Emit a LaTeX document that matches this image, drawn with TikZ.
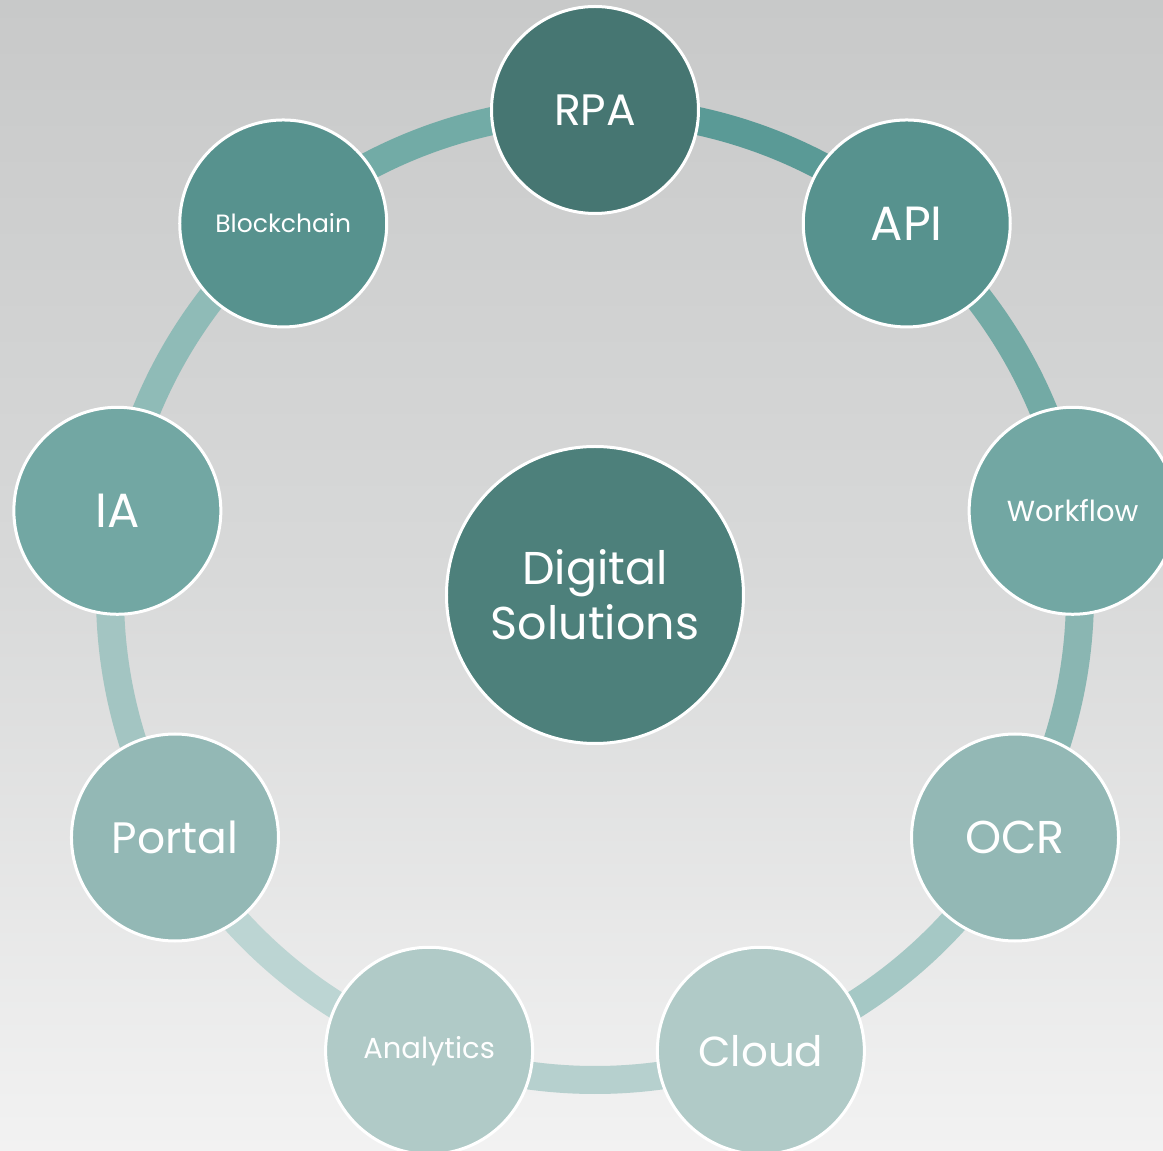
\documentclass[tikz,border=0pt]{standalone}
\usepackage{fontspec}
\setmainfont{Poppins}
\pgfdeclarelayer{bg}
\pgfdeclarelayer{ring}
\pgfsetlayers{bg,ring,main}

\definecolor{bgtop}{RGB}{200,201,201}
\definecolor{bgmid}{RGB}{216,217,217}
\definecolor{bgbot}{RGB}{242,242,242}
\definecolor{hub}{RGB}{77,128,123}
\definecolor{tone1}{RGB}{70,118,114}
\definecolor{tone2}{RGB}{87,146,142}
\definecolor{tone3}{RGB}{114,167,163}
\definecolor{tone4}{RGB}{147,184,181}
\definecolor{tone5}{RGB}{176,202,199}
\definecolor{arcA}{RGB}{90,154,150}
\definecolor{arcB}{RGB}{115,170,165}
\definecolor{arcC}{RGB}{138,182,178}
\definecolor{arcD}{RGB}{165,200,197}
\definecolor{arcE}{RGB}{182,208,206}
\definecolor{arcF}{RGB}{188,213,211}
\definecolor{arcG}{RGB}{163,197,194}
\definecolor{arcH}{RGB}{143,187,183}
\definecolor{arcI}{RGB}{114,171,166}

\newcommand{\txtsize}[1]{\fontsize{#1}{1.2\dimexpr#1pt\relax}\selectfont}

\tikzset{
  bubble/.style={circle, draw=white, line width=3pt, inner sep=0pt,
    minimum size=207pt, text=white, align=center},
  hubnode/.style={circle, draw=white, line width=3pt, inner sep=0pt,
    minimum size=297pt, fill=hub, text=white, align=center},
  ringarc/.style={line width=28pt},
}

\begin{document}
\begin{tikzpicture}[x=1pt,y=1pt]
  % backdrop
  \begin{pgfonlayer}{bg}
    \fill[top color=bgtop, bottom color=bgbot, middle color=bgmid]
      (-595,-556) rectangle (568,595);
  \end{pgfonlayer}
  \useasboundingbox (-595,-556) rectangle (568,595);

  % centre
  \node[hubnode, font={\fontsize{46}{55}\selectfont}] (hub) at (0,0)
    {Digital\\Solutions};

  % outer bubbles on a circle of radius 485
  \node[bubble, fill=tone1, font=\txtsize{44}] (rpa)    at (90:485)   {RPA};
  \node[bubble, fill=tone2, font=\txtsize{48}] (api)    at (50:485)   {API};
  \node[bubble, fill=tone3, font=\txtsize{29}] (wf)     at (10:485)   {Workflow};
  \node[bubble, fill=tone4, font=\txtsize{46}] (ocr)    at (-30:485)  {OCR};
  \node[bubble, fill=tone5, font=\txtsize{42}] (cloud)  at (-70:485)  {Cloud};
  \node[bubble, fill=tone5, font=\txtsize{29}] (ana)    at (-110:485) {Analytics};
  \node[bubble, fill=tone4, font=\txtsize{44}] (portal) at (-150:485) {Portal};
  \node[bubble, fill=tone3, font=\txtsize{48}] (ia)     at (170:485)  {IA};
  \node[bubble, fill=tone2, font=\txtsize{25}] (bc)     at (130:485)  {Blockchain};

  % ring segments joining neighbouring bubbles
  \begin{pgfonlayer}{ring}
    \draw[ringarc, arcA] (rpa.center)    arc[start angle=90,   end angle=50,   radius=485];
    \draw[ringarc, arcB] (api.center)    arc[start angle=50,   end angle=10,   radius=485];
    \draw[ringarc, arcC] (wf.center)     arc[start angle=10,   end angle=-30,  radius=485];
    \draw[ringarc, arcD] (ocr.center)    arc[start angle=-30,  end angle=-70,  radius=485];
    \draw[ringarc, arcE] (cloud.center)  arc[start angle=-70,  end angle=-110, radius=485];
    \draw[ringarc, arcF] (ana.center)    arc[start angle=-110, end angle=-150, radius=485];
    \draw[ringarc, arcG] (portal.center) arc[start angle=-150, end angle=-190, radius=485];
    \draw[ringarc, arcH] (ia.center)     arc[start angle=170,  end angle=130,  radius=485];
    \draw[ringarc, arcI] (bc.center)     arc[start angle=130,  end angle=90,   radius=485];
  \end{pgfonlayer}
\end{tikzpicture}
\end{document}
